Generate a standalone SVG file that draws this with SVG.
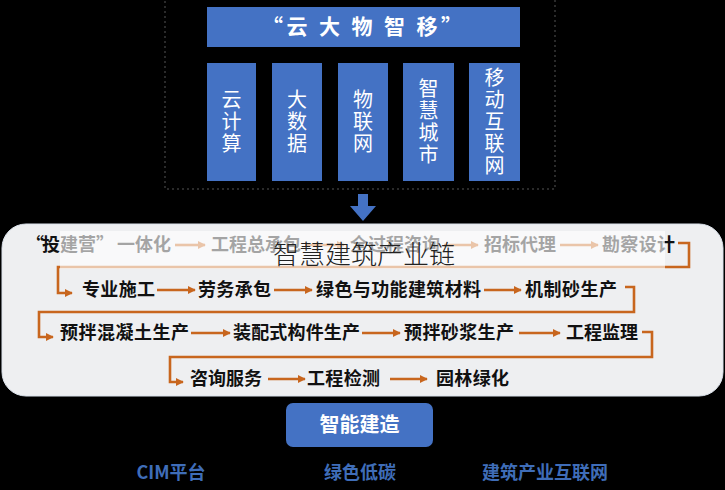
<svg xmlns="http://www.w3.org/2000/svg" width="725" height="490" viewBox="0 0 725 490">
<defs>
<style>
.cjk{font-family:"Noto Sans CJK SC","Noto Sans",sans-serif}
.blue{fill:#4472C4}
.col{font-family:"Noto Sans CJK SC",sans-serif;font-size:20px;fill:#fff;text-anchor:middle}
.item{font-family:"Noto Sans CJK SC",sans-serif;font-size:18px;font-weight:700;fill:#111}
.conn{fill:none;stroke:#C8661E;stroke-width:2.6}
.bot{font-family:"Noto Sans CJK SC",sans-serif;font-size:18px;font-weight:700;fill:#3F6DB8;text-anchor:middle}
</style>
<marker id="ah" viewBox="0 0 10 10" refX="9" refY="5" markerWidth="3.2" markerHeight="3.2" orient="auto" markerUnits="strokeWidth">
<path d="M0,0 L10,5 L0,10 z" fill="#C8661E"/>
</marker>
</defs>
<rect x="0" y="0" width="725" height="490" fill="#000"/>

<rect x="165" y="-5" width="390" height="194" fill="none" stroke="#555" stroke-width="1" stroke-dasharray="2,3"/>

<g id="title">
<rect class="blue" x="207" y="7" width="313" height="40"/>
<text class="cjk" x="262" y="34" font-size="21" font-weight="700" fill="#fff" textLength="200" lengthAdjust="spacing">“云 大 物 智 移”</text>
</g>
<g id="col1"><rect class="blue" x="207" y="63" width="49" height="118"/>
<text class="col" x="231.5" y="107"><tspan x="231.5">云</tspan><tspan x="231.5" dy="22">计</tspan><tspan x="231.5" dy="22">算</tspan></text></g>
<g id="col2"><rect class="blue" x="272" y="63" width="50" height="118"/>
<text class="col" x="297" y="107"><tspan x="297">大</tspan><tspan x="297" dy="22">数</tspan><tspan x="297" dy="22">据</tspan></text></g>
<g id="col3"><rect class="blue" x="338" y="63" width="50" height="118"/>
<text class="col" x="363" y="107"><tspan x="363">物</tspan><tspan x="363" dy="22">联</tspan><tspan x="363" dy="22">网</tspan></text></g>
<g id="col4"><rect class="blue" x="403" y="63" width="51" height="118"/>
<text class="col" x="428.5" y="96"><tspan x="428.5">智</tspan><tspan x="428.5" dy="22">慧</tspan><tspan x="428.5" dy="22">城</tspan><tspan x="428.5" dy="22">市</tspan></text></g>
<g id="col5"><rect class="blue" x="469" y="63" width="51" height="118"/>
<text class="col" x="494.5" y="85"><tspan x="494.5">移</tspan><tspan x="494.5" dy="22">动</tspan><tspan x="494.5" dy="22">互</tspan><tspan x="494.5" dy="22">联</tspan><tspan x="494.5" dy="22">网</tspan></text></g>

<g id="down-arrow"><path class="blue" d="M358,194 H368 V206 H376 L363,221 L350,206 H358 Z"/></g>

<g id="panel"><rect x="2" y="224" width="721" height="172" rx="24" fill="#EEEFF1" stroke="#DCE3EC" stroke-width="1"/></g>

<g id="connectors">
<line class="conn" x1="175" y1="245" x2="205" y2="245" marker-end="url(#ah)"/>
<line class="conn" x1="305" y1="245" x2="344" y2="245" marker-end="url(#ah)"/>
<line class="conn" x1="444" y1="245" x2="478" y2="245" marker-end="url(#ah)"/>
<line class="conn" x1="560" y1="245" x2="598" y2="245" marker-end="url(#ah)"/>
<polyline class="conn" points="678,243 689,243 689,267 58,267 58,293 72,293" marker-end="url(#ah)"/>
<line class="conn" x1="157" y1="290" x2="195" y2="290" marker-end="url(#ah)"/>
<line class="conn" x1="274" y1="290" x2="312" y2="290" marker-end="url(#ah)"/>
<line class="conn" x1="484" y1="290" x2="521" y2="290" marker-end="url(#ah)"/>
<polyline class="conn" points="625,287 634,287 634,312 39,312 39,337 53,337" marker-end="url(#ah)"/>
<line class="conn" x1="191" y1="333" x2="230" y2="333" marker-end="url(#ah)"/>
<line class="conn" x1="362" y1="333" x2="400" y2="333" marker-end="url(#ah)"/>
<line class="conn" x1="519" y1="333" x2="560" y2="333" marker-end="url(#ah)"/>
<polyline class="conn" points="642,332 652,332 652,357 170,357 170,382 183,382" marker-end="url(#ah)"/>
<line class="conn" x1="268" y1="379" x2="305" y2="379" marker-end="url(#ah)"/>
<line class="conn" x1="390" y1="379" x2="427" y2="379" marker-end="url(#ah)"/>
</g>

<g id="row1">
<text class="item" y="251"><tspan x="26">“</tspan><tspan x="42">投建营</tspan><tspan x="96">”</tspan><tspan x="117">一体化</tspan></text>
<text class="item" x="211" y="251" textLength="90">工程总承包</text>
<text class="item" x="350" y="251" textLength="90">全过程咨询</text>
<text class="item" x="484" y="251" textLength="72">招标代理</text>
<text class="item" x="602" y="251" textLength="73">勘察设计</text>
</g>

<rect id="overlay" x="60" y="231" width="605" height="38" fill="#fff" fill-opacity="0.62"/>
<g id="chain-title"><text class="cjk" x="364" y="264" font-size="26" font-weight="300" fill="#222" text-anchor="middle">智慧建筑产业链</text></g>

<g id="row2">
<text class="item" x="82" y="296" textLength="73">专业施工</text>
<text class="item" x="198" y="296" textLength="73">劳务承包</text>
<text class="item" x="316" y="296" textLength="165">绿色与功能建筑材料</text>
<text class="item" x="525" y="296" textLength="92">机制砂生产</text>
</g>
<g id="row3">
<text class="item" x="60" y="339" textLength="129">预拌混凝土生产</text>
<text class="item" x="233" y="339" textLength="127">装配式构件生产</text>
<text class="item" x="404" y="339" textLength="110">预拌砂浆生产</text>
<text class="item" x="566" y="339" textLength="72">工程监理</text>
</g>
<g id="row4">
<text class="item" x="190" y="385" textLength="72">咨询服务</text>
<text class="item" x="307" y="385" textLength="73">工程检测</text>
<text class="item" x="436" y="385" textLength="73">园林绿化</text>
</g>

<g id="smart-build">
<rect class="blue" x="286" y="403" width="147" height="44" rx="7"/>
<text class="cjk" x="359.5" y="432" font-size="20" font-weight="700" fill="#fff" text-anchor="middle">智能建造</text>
</g>
<g id="cim"><text class="bot" x="171" y="479">CIM平台</text></g>
<g id="green"><text class="bot" x="360" y="479">绿色低碳</text></g>
<g id="internet"><text class="bot" x="545" y="479">建筑产业互联网</text></g>
</svg>
